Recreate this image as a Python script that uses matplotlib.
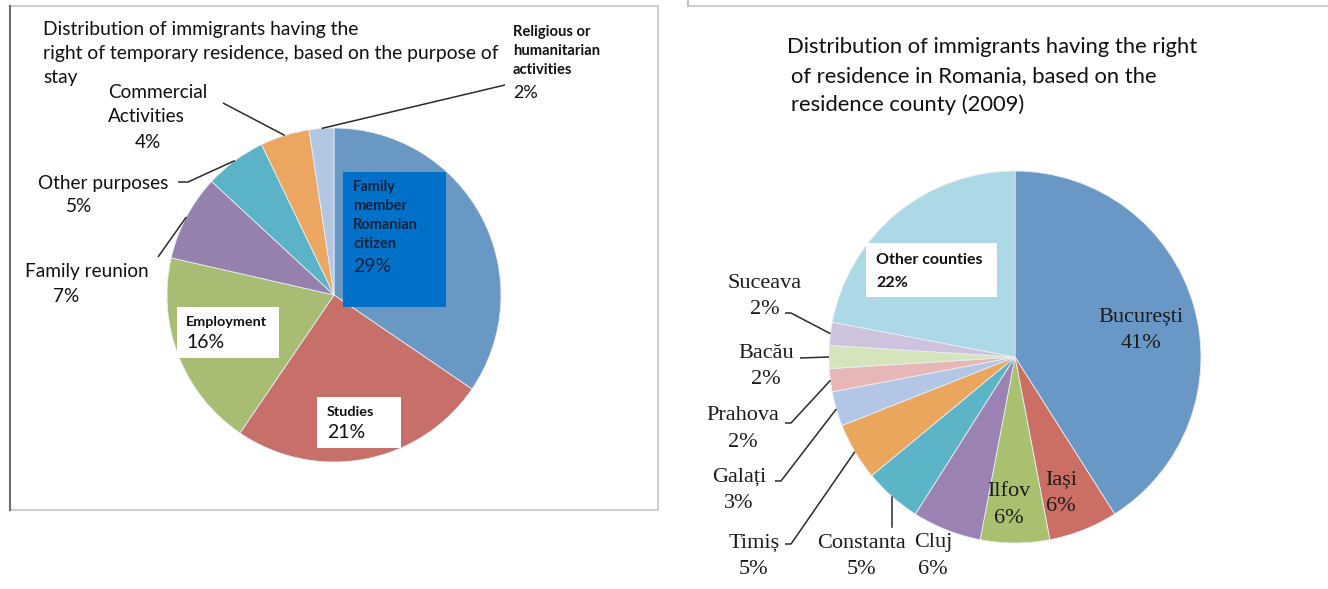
import numpy as np
import matplotlib.pyplot as plt
from matplotlib.patches import Rectangle

W, H = 1328, 589

# left chart: purpose of stay
purpose_names = ["Family member Romanian citizen", "Studies", "Employment", "Family reunion",
                 "Other purposes", "Commercial Activities", "Religious or humanitarian activities"]
purpose_pct = [29, 21, 16, 7, 5, 4, 2]
purpose_colors = ["#6A98C5", "#C7706A", "#A9BC73", "#9580AE", "#5BB3C8", "#EBA662", "#B3C6E2"]

# right chart: residence county (2009)
county_names = ["București", "Iași", "Ilfov", "Cluj", "Constanta", "Timiș", "Galați",
                "Prahova", "Bacău", "Suceava", "Other counties"]
county_pct = [41, 6, 6, 6, 5, 5, 3, 2, 2, 2, 22]
county_colors = ["#6A98C6", "#CB6E64", "#A9C06F", "#9A83B3", "#5CB4C7", "#EBA65E",
                 "#B4C6E5", "#E6B7B6", "#D6E4BC", "#CEC3DC", "#ADD8E6"]

SANS = "Lato"
SERIF = "Liberation Serif"


def Y(y):
    # positions below are measured from the top edge
    return H - y


def rim(w):
    a = np.deg2rad((w.theta1 + w.theta2) / 2)
    return w.center[0] + w.r * np.cos(a), w.center[1] + w.r * np.sin(a)


def txt(x, y, s, size, ha="left", weight="normal", family=SANS, color="#111111"):
    ax.text(x, Y(y), s, fontsize=size, ha=ha, va="center", fontweight=weight,
            family=family, color=color)


def leader(points, w):
    xs = [p[0] for p in points]
    ys = [Y(p[1]) for p in points]
    rx, ry = rim(w)
    ax.plot(xs + [rx], ys + [ry], color="#2b2b2b", lw=1.1, solid_capstyle="butt")


fig = plt.figure(figsize=(W / 100, H / 100), dpi=100)
ax = fig.add_axes([0, 0, 1, 1])

wl, _ = ax.pie(purpose_pct, colors=purpose_colors, startangle=90, counterclock=False,
               center=(334, Y(295)), radius=167,
               wedgeprops=dict(edgecolor="#e8eef4", linewidth=0.6))
wr, _ = ax.pie(county_pct, colors=county_colors, startangle=90, counterclock=False,
               center=(1015, Y(357)), radius=186,
               wedgeprops=dict(edgecolor="#e8eef4", linewidth=0.6))

ax.set_xlim(0, W)
ax.set_ylim(0, H)
ax.set_aspect("equal")
ax.axis("off")

# panel frames
ax.plot([10, 658, 658, 10], [Y(6), Y(6), Y(510), Y(510)], color="#cfcfcf", lw=1.5)
ax.plot([10, 10], [Y(6), Y(510)], color="#6e6e6e", lw=1.5)
ax.plot([688, W], [Y(6), Y(6)], color="#cfcfcf", lw=1.5)
ax.plot([688, 688], [Y(6), H], color="#c4c4c4", lw=1.5)

# ---- left chart text ----
for i, s in enumerate(["Distribution of immigrants having the",
                       "right of temporary residence, based on the purpose of",
                       "stay"]):
    txt(43, 30 + i * 23.5, s, 13.9)

txt(108, 93, "Commercial", 13.7)
txt(108, 117, "Activities", 13.7)
txt(148, 142, "4%", 13.7, ha="center")
txt(38, 183, "Other purposes", 13.7)
txt(66, 207, "5%", 13.7)
txt(25, 272, "Family reunion", 13.7)
txt(53, 297, "7%", 13.7)
for i, s in enumerate(["Religious or", "humanitarian", "activities"]):
    txt(513, 32 + i * 19, s, 10.6, weight="bold")
txt(513, 93, "2%", 13)

leader([(505, 85)], wl[6])
leader([(223, 103)], wl[5])
leader([(178, 182), (188, 182)], wl[4])
leader([(158, 257)], wl[3])

ax.add_patch(Rectangle((343, Y(307)), 103, 135, facecolor="#0070C8", edgecolor="none", zorder=3))
for i, s in enumerate(["Family", "member", "Romanian", "citizen"]):
    txt(353, 187 + i * 19, s, 10.5, weight="bold", color="#10233d")
txt(353, 267, "29%", 14, color="#10233d")

ax.add_patch(Rectangle((177, Y(358)), 102, 51, facecolor="white", edgecolor="none", zorder=3))
txt(186, 322, "Employment", 10.4, weight="bold")
txt(186, 343, "16%", 14)

ax.add_patch(Rectangle((317, Y(448)), 84, 51, facecolor="white", edgecolor="none", zorder=3))
txt(327, 412, "Studies", 10.4, weight="bold")
txt(327, 433, "21%", 14)

# ---- right chart text ----
txt(787, 47, "Distribution of immigrants having the right", 15.8)
txt(791, 76, "of residence in Romania, based on the", 15.8)
txt(791, 105, "residence county (2009)", 15.8)

ax.add_patch(Rectangle((866, Y(297)), 131, 54, facecolor="white", edgecolor="none", zorder=3))
txt(876, 260, "Other counties", 11.5, weight="bold")
txt(876, 283, "22%", 11.5, weight="bold")

serif_labels = {
    "București": (1141, 317),
    "Iași": (1061, 480),
    "Ilfov": (1009, 492),
    "Cluj": (933, 543),
    "Constanta": (862, 543),
    "Timiș": (754, 543),
    "Galați": (739, 477),
    "Prahova": (743, 416),
    "Bacău": (766, 353),
    "Suceava": (765, 283),
}
for name, pct in zip(county_names, county_pct):
    if name not in serif_labels:
        continue
    x, y = serif_labels[name]
    txt(x, y, name, 16, ha="center", family=SERIF, color="#1b1b1b")
    txt(x, y + 26.5, f"{pct}%", 16, ha="center", family=SERIF, color="#1b1b1b")

leader([(785, 313), (791, 313)], wr[9])
leader([(800, 358)], wr[8])
leader([(785, 423), (791, 423)], wr[7])
leader([(775, 481), (781, 481)], wr[6])
leader([(785, 544), (791, 544)], wr[5])
cx, cy = rim(wr[4])
ax.plot([cx, cx], [Y(527), cy], color="#2b2b2b", lw=1.1)

fig.savefig("out.png", dpi=100)
